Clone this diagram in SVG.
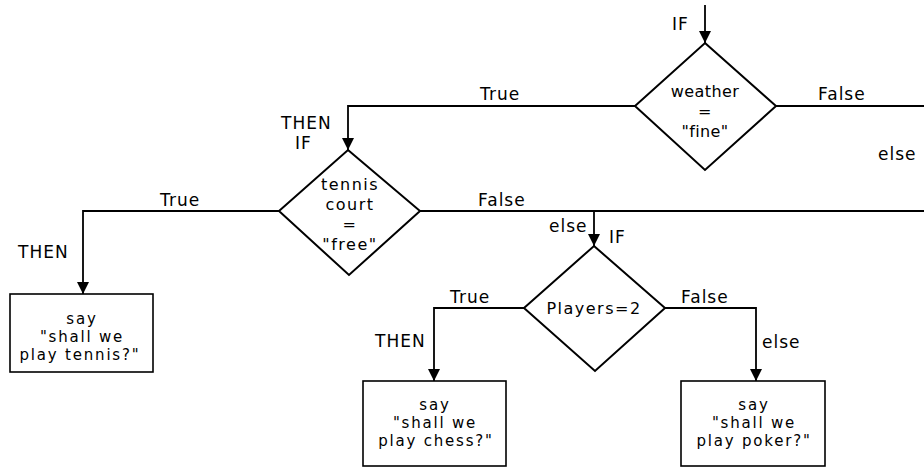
<svg xmlns="http://www.w3.org/2000/svg" width="924" height="468" viewBox="0 0 924 468">
<style>
text{font-family:"DejaVu Sans","Liberation Sans",sans-serif;font-size:17px;letter-spacing:1px;fill:#000}
.c{text-anchor:middle}
.n{font-size:16px;letter-spacing:1.5px}
.w{font-size:16px;letter-spacing:0.4px}
.t{font-size:15px;letter-spacing:1.8px}
.d{fill:#fff;stroke:#000;stroke-width:2}
.b{fill:#fff;stroke:#000;stroke-width:1.6}
.e{fill:none;stroke:#000;stroke-width:1.8}
</style>
<defs>
<marker id="ah" markerUnits="userSpaceOnUse" markerWidth="12" markerHeight="12" refX="12" refY="6" orient="auto">
<path d="M0,0 L12,6 L0,12 z" fill="#000"/>
</marker>
</defs>
<rect width="924" height="468" fill="#fff"/>
<g id="connectors">
<path class="e" d="M705,5 V43" marker-end="url(#ah)"/>
<path class="e" d="M635,106 H348 V150" marker-end="url(#ah)"/>
<path class="e" d="M776,106 H924"/>
<path class="e" d="M279,211 H83 V294" marker-end="url(#ah)"/>
<path class="e" d="M420,211 H924"/>
<path class="e" d="M594,211 V246" marker-end="url(#ah)"/>
<path class="e" d="M524,308 H434 V381" marker-end="url(#ah)"/>
<path class="e" d="M665,308 H756 V381" marker-end="url(#ah)"/>
<text x="672" y="30">IF</text>
<text x="480" y="100">True</text>
<text x="818" y="100">False</text>
<text x="878" y="160">else</text>
<text x="281" y="129">THEN</text>
<text x="295" y="149">IF</text>
<text x="160" y="206">True</text>
<text x="18" y="258">THEN</text>
<text x="478" y="206">False</text>
<text x="549" y="232">else</text>
<text x="609" y="243">IF</text>
<text x="450" y="303">True</text>
<text x="375" y="347">THEN</text>
<text x="681" y="303">False</text>
<text x="762" y="348">else</text>
</g>
<g id="weather">
<polygon class="d" points="705,43 776,106 705,170 635,106"/>
<text class="c w" x="705" y="97">weather</text>
<text class="c w" x="705" y="117">=</text>
<text class="c w" x="705" y="137">"fine"</text>
</g>
<g id="tennis-court">
<polygon class="d" points="348,150 420,211 349,275 279,211"/>
<text class="c n" x="350" y="190">tennis</text>
<text class="c n" x="350" y="210">court</text>
<text class="c n" x="350" y="230">=</text>
<text class="c n" x="350" y="250">"free"</text>
</g>
<g id="players">
<polygon class="d" points="594,246 665,308 595,371 524,308"/>
<text class="c n" x="594" y="314">Players=2</text>
</g>
<g id="say-tennis">
<rect class="b" x="10" y="294" width="143" height="78"/>
<text class="c t" x="82" y="324">say</text>
<text class="c t" x="82" y="342">"shall we</text>
<text class="c t" x="80" y="360">play tennis?"</text>
</g>
<g id="say-chess">
<rect class="b" x="363" y="381" width="143" height="85"/>
<text class="c t" x="435" y="410">say</text>
<text class="c t" x="435" y="428">"shall we</text>
<text class="c t" x="436" y="446">play chess?"</text>
</g>
<g id="say-poker">
<rect class="b" x="681" y="381" width="144" height="85"/>
<text class="c t" x="754" y="410">say</text>
<text class="c t" x="754" y="428">"shall we</text>
<text class="c t" x="754" y="446">play poker?"</text>
</g>
</svg>
